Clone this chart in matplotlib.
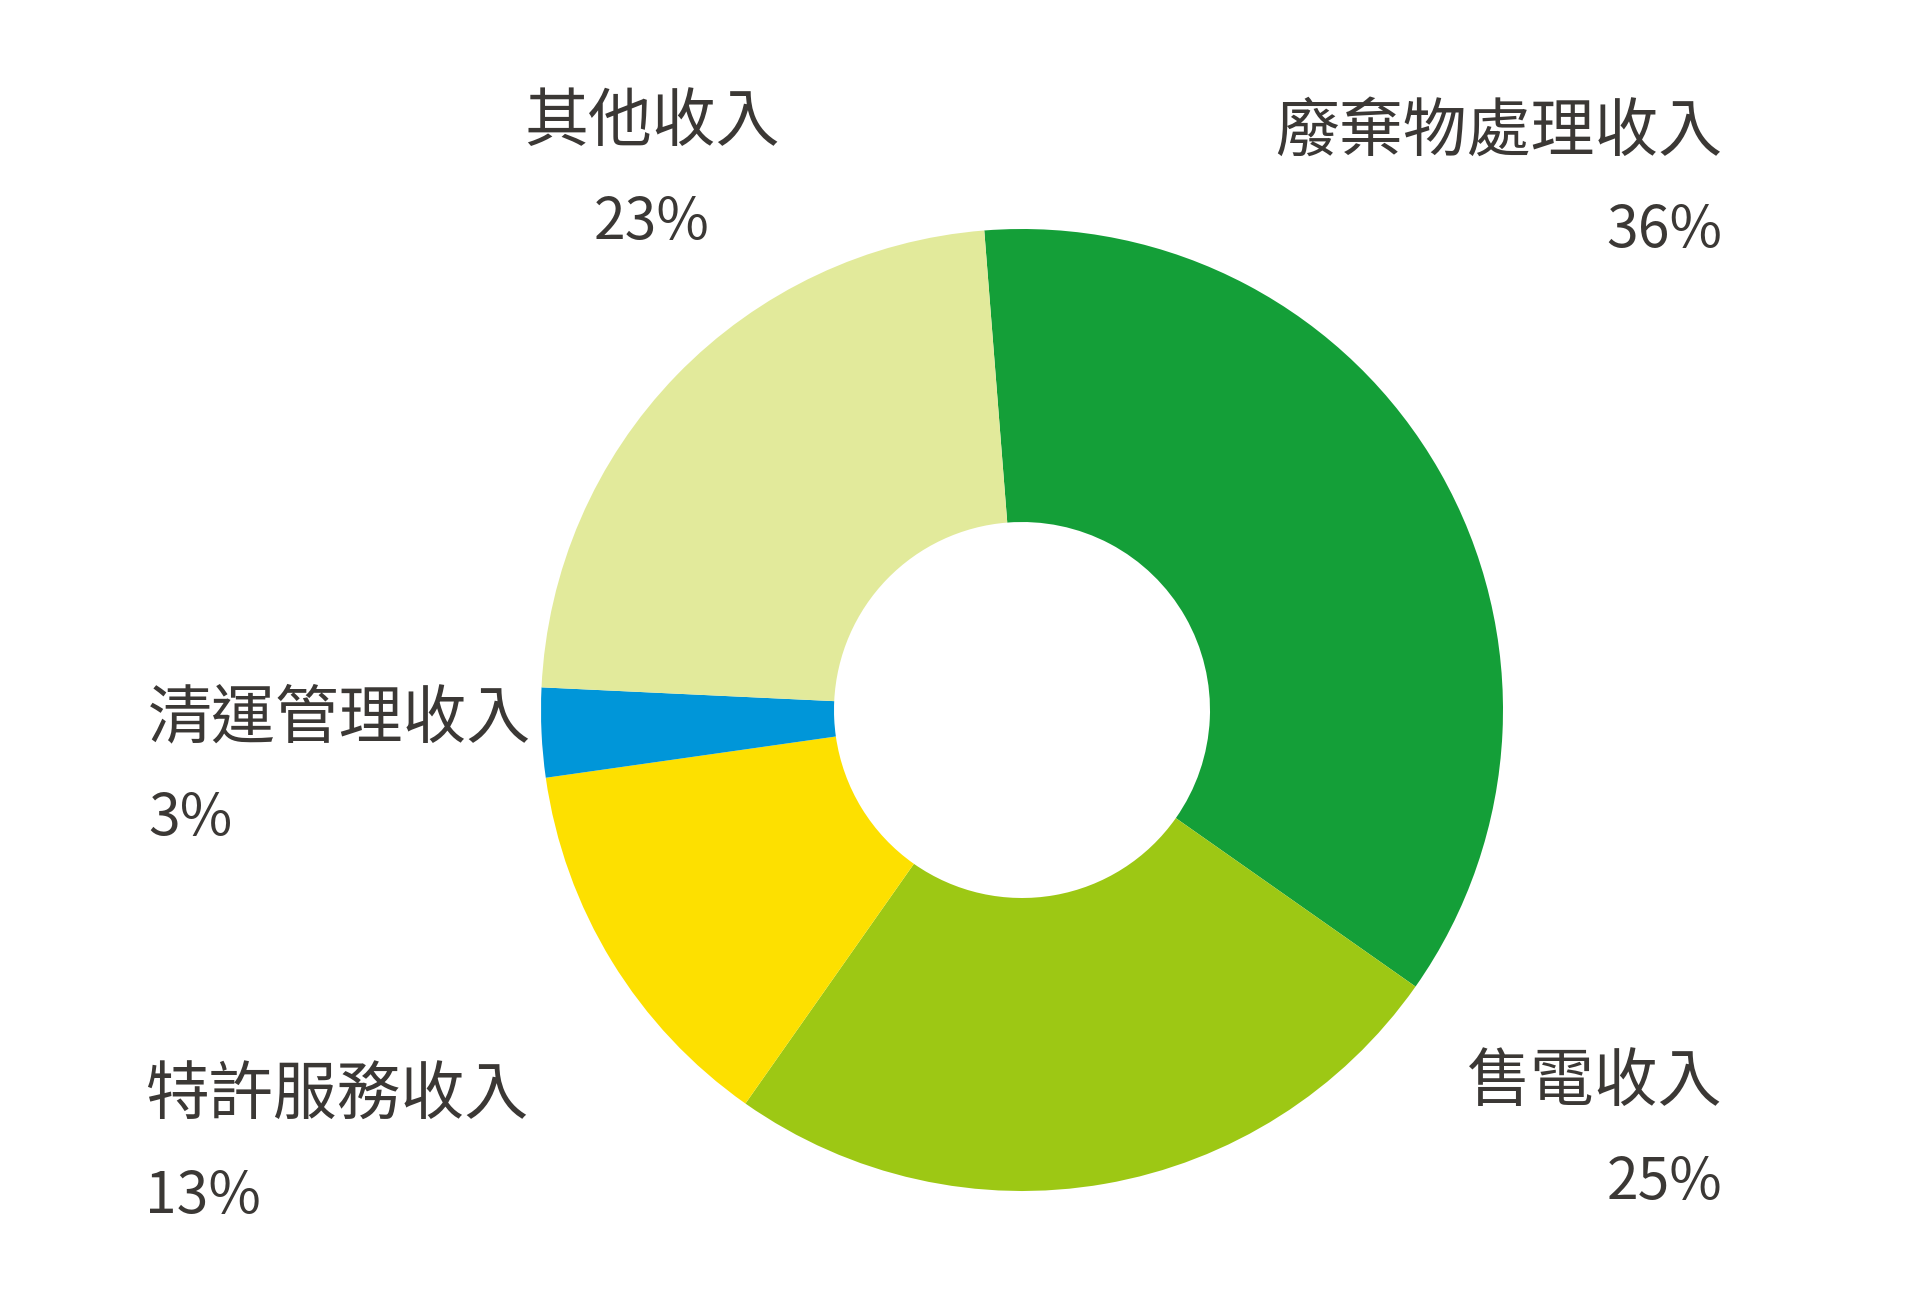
import matplotlib.pyplot as plt

plt.rcParams['font.family'] = ['Noto Sans CJK TC', 'DejaVu Sans']

# Data (clockwise from top)
labels = ["廢棄物處理收入", "售電收入", "特許服務收入", "清運管理收入", "其他收入"]
shares = [36, 25, 13, 3, 23]
colors = ["#149F38", "#9DC814", "#FDE000", "#0096D9", "#E2EA9B"]

text_color = "#3B3835"
W, H = 1912, 1300

fig = plt.figure(figsize=(W / 100, H / 100), dpi=100)
ax = fig.add_axes([0, 0, 1, 1])
ax.set_xlim(0, W)
ax.set_ylim(0, H)
ax.axis("off")

cx, cy = 1022, H - 710
radius = 481
ax.pie(shares, colors=colors, startangle=94.5, counterclock=False,
       center=(cx, cy), radius=radius,
       wedgeprops=dict(width=radius - 188, linewidth=0))
ax.set_xlim(0, W)
ax.set_ylim(0, H)
ax.set_aspect("equal")

# label anchors in pixel coordinates (x, name y, pct y, alignment)
label_pos = {
    "廢棄物處理收入": (1722, 133, 231, "right"),
    "售電收入": (1722, 1083, 1183, "right"),
    "特許服務收入": (145, 1096, 1197, "left"),
    "清運管理收入": (148, 719, 819, "left"),
    "其他收入": (652, 123, 223, "center"),
}

for name, val in zip(labels, shares):
    x, y1, y2, ha = label_pos[name]
    ax.text(x, H - y1, name, ha=ha, va="center", fontsize=46, color=text_color)
    ax.text(x, H - y2, f"{val}%", ha=ha, va="center", fontsize=41, color=text_color)

fig.savefig("out.png", dpi=100, facecolor="white")
